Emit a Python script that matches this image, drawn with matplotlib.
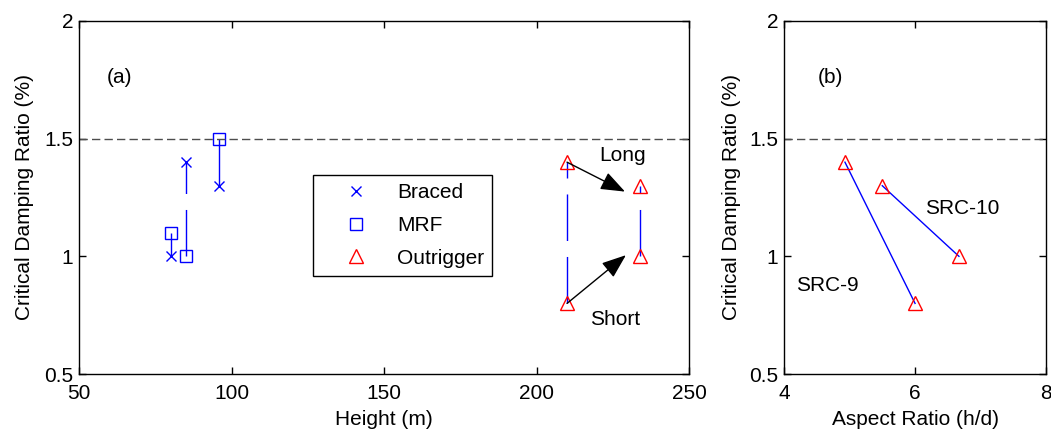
import matplotlib.pyplot as plt
from matplotlib.lines import Line2D

plt.rcParams['font.family'] = ['Liberation Sans', 'DejaVu Sans']
plt.rcParams['font.size'] = 15

# (a) damping ratio vs height
braced_h = [80, 85, 96]
braced_z = [1.0, 1.4, 1.3]
mrf_h = [80, 85, 96]
mrf_z = [1.1, 1.0, 1.5]
out_h = [210, 210, 234, 234]
out_z = [1.4, 0.8, 1.3, 1.0]

# (b) damping ratio vs aspect ratio
src9_ar = [4.93, 6.0]
src9_z = [1.4, 0.8]
src10_ar = [5.5, 6.67]
src10_z = [1.3, 1.0]

target_z = 1.5

fig = plt.figure(figsize=(10.51, 4.38), dpi=100)
ax1 = fig.add_axes([0.0752, 0.1461, 0.5804, 0.806])
ax2 = fig.add_axes([0.746, 0.1461, 0.2493, 0.806])

blue = '#0000ff'
dash_long = (33.5, 11.5)

# vertical links between the two results of each building (bottom -> top)
pairs = [(braced_h[i], braced_z[i], mrf_z[i]) for i in range(3)]
pairs += [(out_h[0], out_z[0], out_z[1]), (out_h[2], out_z[2], out_z[3])]
for h, z1, z2 in pairs:
    ax1.plot([h, h], [min(z1, z2), max(z1, z2)], color=blue, lw=1,
             dashes=dash_long)

ax1.plot(braced_h, braced_z, 'x', color=blue, ms=7, mew=1)
ax1.plot(mrf_h, mrf_z, 's', color=blue, mfc='none', ms=9, mew=1)
ax1.plot(out_h, out_z, '^', color='r', mfc='none', ms=10, mew=1)

# arrows from short/long outrigger cases
astyle = '-|>,head_length=1.0,head_width=0.38'
ax1.annotate('', xy=(229, 1.275), xytext=(out_h[0], out_z[0]),
             arrowprops=dict(arrowstyle=astyle, color='k', lw=1,
                             shrinkA=0, shrinkB=0))
ax1.annotate('', xy=(229.3, 1.005), xytext=(out_h[1], out_z[1]),
             arrowprops=dict(arrowstyle=astyle, color='k', lw=1,
                             shrinkA=0, shrinkB=0))
ax1.text(220.5, 1.43, 'Long', ha='left', va='center')
ax1.text(217.5, 0.73, 'Short', ha='left', va='center')
ax1.text(59.2, 1.76, '(a)', ha='left', va='center')

ax1.axhline(target_z, color='0.3', lw=1, dashes=(6, 3))

handles = [
    Line2D([], [], ls='none', marker='x', color=blue, ms=7, mew=1),
    Line2D([], [], ls='none', marker='s', color=blue, mfc='none', ms=9, mew=1),
    Line2D([], [], ls='none', marker='^', color='r', mfc='none', ms=10, mew=1),
]
leg = ax1.legend(handles, ['Braced', 'MRF', 'Outrigger'], loc='upper left',
                 bbox_to_anchor=(0.383, 0.564), fancybox=False, framealpha=1,
                 edgecolor='k', handlelength=3.4, handletextpad=0.24,
                 borderpad=0.4, labelspacing=0.66, borderaxespad=0,
                 fontsize=15)
leg.get_frame().set_linewidth(1)

ax1.set_xlim(50, 250)
ax1.set_ylim(0.5, 2)
ax1.set_xticks([50, 100, 150, 200, 250])
ax1.set_yticks([0.5, 1, 1.5, 2])
ax1.set_yticklabels(['0.5', '1', '1.5', '2'])
ax1.set_xlabel('Height (m)', labelpad=5)
ax1.set_ylabel('Critical Damping Ratio (%)', labelpad=7.5)

ax2.plot(src9_ar, src9_z, color=blue, lw=1)
ax2.plot(src10_ar, src10_z, color=blue, lw=1)
ax2.plot(src9_ar + src10_ar, src9_z + src10_z, '^', color='r', mfc='none',
         ms=10, mew=1)
ax2.axhline(target_z, color='0.3', lw=1, dashes=(6, 3))
ax2.text(6.15, 1.205, 'SRC-10', ha='left', va='center')
ax2.text(4.19, 0.878, 'SRC-9', ha='left', va='center')
ax2.text(4.52, 1.76, '(b)', ha='left', va='center')

ax2.set_xlim(4, 8)
ax2.set_ylim(0.5, 2)
ax2.set_xticks([4, 6, 8])
ax2.set_yticks([0.5, 1, 1.5, 2])
ax2.set_yticklabels(['0.5', '1', '1.5', '2'])
ax2.set_xlabel('Aspect Ratio (h/d)', labelpad=5)
ax2.set_ylabel('Critical Damping Ratio (%)', labelpad=6)

for ax in (ax1, ax2):
    ax.tick_params(direction='in', top=True, right=True, length=5,
                   width=1, labelsize=15)
    ax.tick_params(axis='x', pad=7.5)
    ax.tick_params(axis='y', pad=4)
    for s in ax.spines.values():
        s.set_linewidth(1)

fig.savefig('out.png', dpi=100)
